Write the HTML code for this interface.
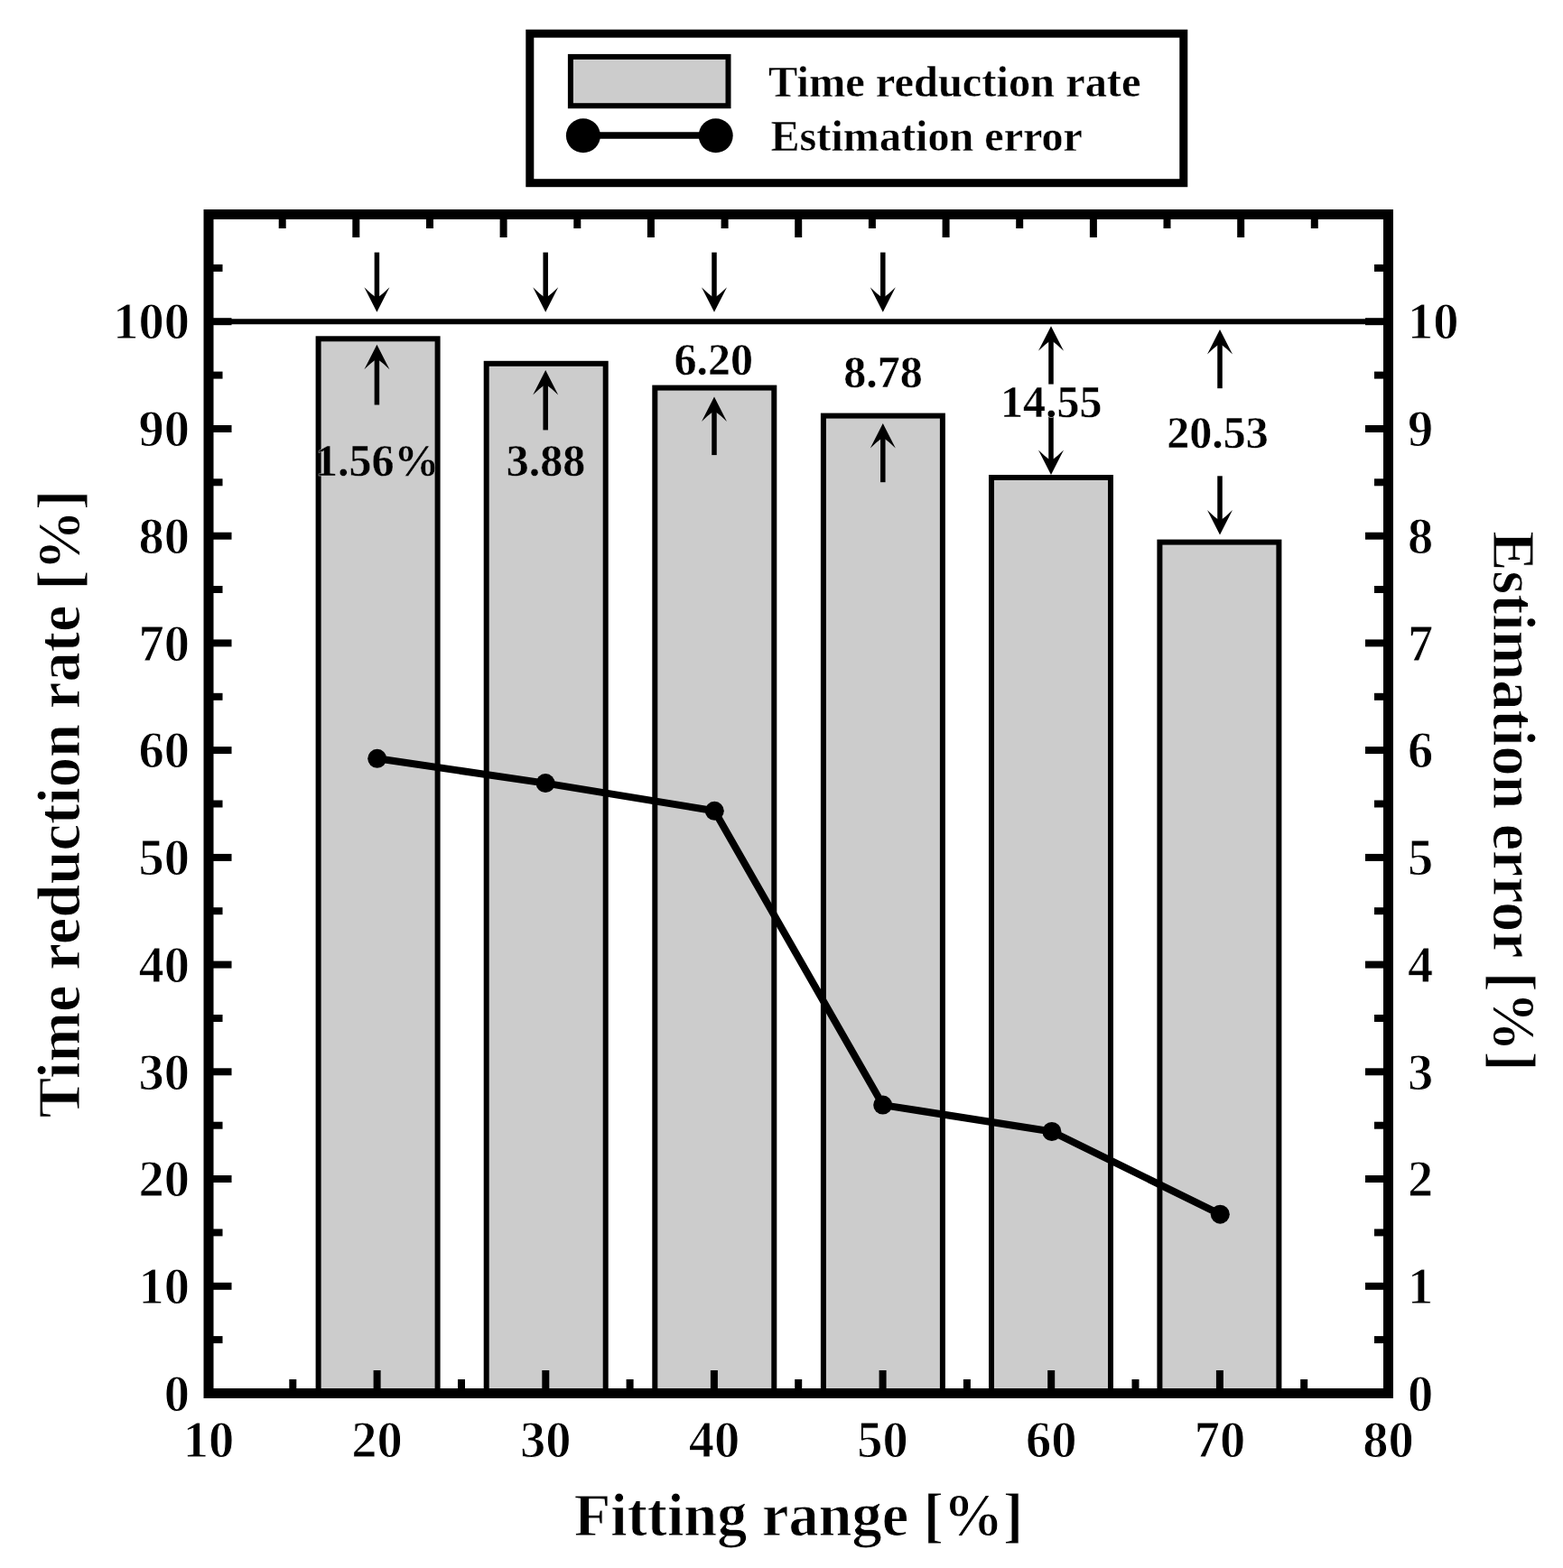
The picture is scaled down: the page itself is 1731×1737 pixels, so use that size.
<!DOCTYPE html>
<html lang="en"><head><meta charset="utf-8"><title>Time reduction rate and estimation error vs fitting range</title>
<style>html,body{margin:0;padding:0;background:#fff}body{width:1731px;height:1737px;overflow:hidden}svg{display:block;filter:blur(0.7px)}text{font-family:"Liberation Serif","Times New Roman",serif;font-weight:bold;fill:#000;stroke:#fff;stroke-width:1px;paint-order:fill stroke}.ing{stroke:#ccc}.tk{font-size:56.5px}.an{font-size:50px}.an text{stroke-width:0.4px}.lg{font-size:49px;stroke-width:0.4px}.ax{font-size:67px}</style>
</head><body>
<svg role="img" aria-label="Bar and line chart" width="1731" height="1737" viewBox="0 0 1731 1737">
<rect x="0" y="0" width="1731" height="1737" fill="#fff"/>
<g fill="#cccccc" stroke="#000" stroke-width="6">
<rect x="352.6" y="375.3" width="132.0" height="1168.2"/>
<rect x="538.7" y="402.8" width="132.0" height="1140.7"/>
<rect x="725.3" y="429.6" width="132.0" height="1113.9"/>
<rect x="911.9" y="460.6" width="132.0" height="1082.9"/>
<rect x="1098.0" y="529.0" width="132.0" height="1014.5"/>
<rect x="1284.4" y="600.6" width="132.0" height="942.9"/>
</g>
<line x1="231.0" y1="356.2" x2="1537.5" y2="356.2" stroke="#000" stroke-width="6"/>
<g stroke="#000" stroke-width="8">
<line x1="231.0" y1="1484.1" x2="246.5" y2="1484.1"/>
<line x1="1537.5" y1="1484.1" x2="1522.0" y2="1484.1"/>
<line x1="231.0" y1="1424.8" x2="256.5" y2="1424.8"/>
<line x1="1537.5" y1="1424.8" x2="1512.0" y2="1424.8"/>
<line x1="231.0" y1="1365.4" x2="246.5" y2="1365.4"/>
<line x1="1537.5" y1="1365.4" x2="1522.0" y2="1365.4"/>
<line x1="231.0" y1="1306.0" x2="256.5" y2="1306.0"/>
<line x1="1537.5" y1="1306.0" x2="1512.0" y2="1306.0"/>
<line x1="231.0" y1="1246.7" x2="246.5" y2="1246.7"/>
<line x1="1537.5" y1="1246.7" x2="1522.0" y2="1246.7"/>
<line x1="231.0" y1="1187.3" x2="256.5" y2="1187.3"/>
<line x1="1537.5" y1="1187.3" x2="1512.0" y2="1187.3"/>
<line x1="231.0" y1="1128.0" x2="246.5" y2="1128.0"/>
<line x1="1537.5" y1="1128.0" x2="1522.0" y2="1128.0"/>
<line x1="231.0" y1="1068.6" x2="256.5" y2="1068.6"/>
<line x1="1537.5" y1="1068.6" x2="1512.0" y2="1068.6"/>
<line x1="231.0" y1="1009.2" x2="246.5" y2="1009.2"/>
<line x1="1537.5" y1="1009.2" x2="1522.0" y2="1009.2"/>
<line x1="231.0" y1="949.9" x2="256.5" y2="949.9"/>
<line x1="1537.5" y1="949.9" x2="1512.0" y2="949.9"/>
<line x1="231.0" y1="890.5" x2="246.5" y2="890.5"/>
<line x1="1537.5" y1="890.5" x2="1522.0" y2="890.5"/>
<line x1="231.0" y1="831.1" x2="256.5" y2="831.1"/>
<line x1="1537.5" y1="831.1" x2="1512.0" y2="831.1"/>
<line x1="231.0" y1="771.8" x2="246.5" y2="771.8"/>
<line x1="1537.5" y1="771.8" x2="1522.0" y2="771.8"/>
<line x1="231.0" y1="712.4" x2="256.5" y2="712.4"/>
<line x1="1537.5" y1="712.4" x2="1512.0" y2="712.4"/>
<line x1="231.0" y1="653.0" x2="246.5" y2="653.0"/>
<line x1="1537.5" y1="653.0" x2="1522.0" y2="653.0"/>
<line x1="231.0" y1="593.7" x2="256.5" y2="593.7"/>
<line x1="1537.5" y1="593.7" x2="1512.0" y2="593.7"/>
<line x1="231.0" y1="534.3" x2="246.5" y2="534.3"/>
<line x1="1537.5" y1="534.3" x2="1522.0" y2="534.3"/>
<line x1="231.0" y1="475.0" x2="256.5" y2="475.0"/>
<line x1="1537.5" y1="475.0" x2="1512.0" y2="475.0"/>
<line x1="231.0" y1="415.6" x2="246.5" y2="415.6"/>
<line x1="1537.5" y1="415.6" x2="1522.0" y2="415.6"/>
<line x1="231.0" y1="356.2" x2="256.5" y2="356.2"/>
<line x1="1537.5" y1="356.2" x2="1512.0" y2="356.2"/>
<line x1="231.0" y1="296.9" x2="246.5" y2="296.9"/>
<line x1="1537.5" y1="296.9" x2="1522.0" y2="296.9"/>
<line x1="324.3" y1="1543.5" x2="324.3" y2="1528.0"/>
<line x1="417.6" y1="1543.5" x2="417.6" y2="1518.0"/>
<line x1="511.0" y1="1543.5" x2="511.0" y2="1528.0"/>
<line x1="604.3" y1="1543.5" x2="604.3" y2="1518.0"/>
<line x1="697.6" y1="1543.5" x2="697.6" y2="1528.0"/>
<line x1="790.9" y1="1543.5" x2="790.9" y2="1518.0"/>
<line x1="884.2" y1="1543.5" x2="884.2" y2="1528.0"/>
<line x1="977.6" y1="1543.5" x2="977.6" y2="1518.0"/>
<line x1="1070.9" y1="1543.5" x2="1070.9" y2="1528.0"/>
<line x1="1164.2" y1="1543.5" x2="1164.2" y2="1518.0"/>
<line x1="1257.5" y1="1543.5" x2="1257.5" y2="1528.0"/>
<line x1="1350.9" y1="1543.5" x2="1350.9" y2="1518.0"/>
<line x1="1444.2" y1="1543.5" x2="1444.2" y2="1528.0"/>
<line x1="312.7" y1="237.5" x2="312.7" y2="253.0"/>
<line x1="394.3" y1="237.5" x2="394.3" y2="263.0"/>
<line x1="476.0" y1="237.5" x2="476.0" y2="253.0"/>
<line x1="557.6" y1="237.5" x2="557.6" y2="263.0"/>
<line x1="639.3" y1="237.5" x2="639.3" y2="253.0"/>
<line x1="720.9" y1="237.5" x2="720.9" y2="263.0"/>
<line x1="802.6" y1="237.5" x2="802.6" y2="253.0"/>
<line x1="884.2" y1="237.5" x2="884.2" y2="263.0"/>
<line x1="965.9" y1="237.5" x2="965.9" y2="253.0"/>
<line x1="1047.6" y1="237.5" x2="1047.6" y2="263.0"/>
<line x1="1129.2" y1="237.5" x2="1129.2" y2="253.0"/>
<line x1="1210.9" y1="237.5" x2="1210.9" y2="263.0"/>
<line x1="1292.5" y1="237.5" x2="1292.5" y2="253.0"/>
<line x1="1374.2" y1="237.5" x2="1374.2" y2="263.0"/>
<line x1="1455.8" y1="237.5" x2="1455.8" y2="253.0"/>
</g>
<rect x="231.0" y="237.5" width="1306.5" height="1306.0" fill="none" stroke="#000" stroke-width="11"/>
<polyline fill="none" stroke="#000" stroke-width="8" stroke-linejoin="round" points="417.7,840.3 604.1,867.6 791.3,898.3 977.7,1224.1 1164.9,1253.5 1351.3,1345.2"/>
<g fill="#000">
<circle cx="417.7" cy="840.3" r="10.5"/>
<circle cx="604.1" cy="867.6" r="10.5"/>
<circle cx="791.3" cy="898.3" r="10.5"/>
<circle cx="977.7" cy="1224.1" r="10.5"/>
<circle cx="1164.9" cy="1253.5" r="10.5"/>
<circle cx="1351.3" cy="1345.2" r="10.5"/>
</g>
<g>
<line x1="417.4" y1="279.6" x2="417.4" y2="333.8" stroke="#000" stroke-width="5.5"/><path d="M417.4 345.8 L403.4 318.3 Q410.4 325.3 417.4 330.3 Q424.4 325.3 431.4 318.3 Z" fill="#000"/>
<line x1="604.2" y1="279.6" x2="604.2" y2="333.8" stroke="#000" stroke-width="5.5"/><path d="M604.2 345.8 L590.2 318.3 Q597.2 325.3 604.2 330.3 Q611.2 325.3 618.2 318.3 Z" fill="#000"/>
<line x1="791.0" y1="279.6" x2="791.0" y2="333.8" stroke="#000" stroke-width="5.5"/><path d="M791.0 345.8 L777.0 318.3 Q784.0 325.3 791.0 330.3 Q798.0 325.3 805.0 318.3 Z" fill="#000"/>
<line x1="977.8" y1="279.6" x2="977.8" y2="333.8" stroke="#000" stroke-width="5.5"/><path d="M977.8 345.8 L963.8 318.3 Q970.8 325.3 977.8 330.3 Q984.8 325.3 991.8 318.3 Z" fill="#000"/>
<line x1="417.4" y1="448.5" x2="417.4" y2="393.8" stroke="#000" stroke-width="5.5"/><path d="M417.4 381.8 L403.4 409.3 Q410.4 402.3 417.4 397.3 Q424.4 402.3 431.4 409.3 Z" fill="#000"/>
<line x1="604.2" y1="476.4" x2="604.2" y2="421.9" stroke="#000" stroke-width="5.5"/><path d="M604.2 409.9 L590.2 437.4 Q597.2 430.4 604.2 425.4 Q611.2 430.4 618.2 437.4 Z" fill="#000"/>
<line x1="791.0" y1="504.1" x2="791.0" y2="451.4" stroke="#000" stroke-width="5.5"/><path d="M791.0 439.4 L777.0 466.9 Q784.0 459.9 791.0 454.9 Q798.0 459.9 805.0 466.9 Z" fill="#000"/>
<line x1="977.8" y1="534.2" x2="977.8" y2="481.0" stroke="#000" stroke-width="5.5"/><path d="M977.8 469.0 L963.8 496.5 Q970.8 489.5 977.8 484.5 Q984.8 489.5 991.8 496.5 Z" fill="#000"/>
<line x1="1164.0" y1="425.6" x2="1164.0" y2="373.3" stroke="#000" stroke-width="5.5"/><path d="M1164.0 361.3 L1150.0 388.8 Q1157.0 381.8 1164.0 376.8 Q1171.0 381.8 1178.0 388.8 Z" fill="#000"/>
<line x1="1164.0" y1="459.5" x2="1164.0" y2="514.0" stroke="#000" stroke-width="5.5"/><path d="M1164.0 526.0 L1150.0 498.5 Q1157.0 505.5 1164.0 510.5 Q1171.0 505.5 1178.0 498.5 Z" fill="#000"/>
<line x1="1351.0" y1="430.2" x2="1351.0" y2="377.0" stroke="#000" stroke-width="5.5"/><path d="M1351.0 365.0 L1337.0 392.5 Q1344.0 385.5 1351.0 380.5 Q1358.0 385.5 1365.0 392.5 Z" fill="#000"/>
<line x1="1351.0" y1="527.3" x2="1351.0" y2="580.5" stroke="#000" stroke-width="5.5"/><path d="M1351.0 592.5 L1337.0 565.0 Q1344.0 572.0 1351.0 577.0 Q1358.0 572.0 1365.0 565.0 Z" fill="#000"/>
</g>
<g class="an" text-anchor="middle">
<text class="ing" x="417.8" y="527.3">1.56%</text>
<text class="ing" x="604.6" y="527.3">3.88</text>
<text x="790.3" y="415.2">6.20</text>
<text x="977.9" y="429.0">8.78</text>
<text x="1164.2" y="461.7">14.55</text>
<text x="1348.6" y="496.0">20.53</text>
</g>
<g class="tk" text-anchor="end">
<text x="210.0" y="1562.7">0</text>
<text x="210.0" y="1444.0">10</text>
<text x="210.0" y="1325.2">20</text>
<text x="210.0" y="1206.5">30</text>
<text x="210.0" y="1087.8">40</text>
<text x="210.0" y="969.1">50</text>
<text x="210.0" y="850.3">60</text>
<text x="210.0" y="731.6">70</text>
<text x="210.0" y="612.9">80</text>
<text x="210.0" y="494.2">90</text>
<text x="210.0" y="375.4">100</text>
</g>
<g class="tk" text-anchor="start">
<text x="1559.0" y="1562.7">0</text>
<text x="1559.0" y="1444.0">1</text>
<text x="1559.0" y="1325.2">2</text>
<text x="1559.0" y="1206.5">3</text>
<text x="1559.0" y="1087.8">4</text>
<text x="1559.0" y="969.1">5</text>
<text x="1559.0" y="850.3">6</text>
<text x="1559.0" y="731.6">7</text>
<text x="1559.0" y="612.9">8</text>
<text x="1559.0" y="494.2">9</text>
<text x="1559.0" y="375.4">10</text>
</g>
<g class="tk" text-anchor="middle">
<text x="231.0" y="1614.2">10</text>
<text x="417.6" y="1614.2">20</text>
<text x="604.3" y="1614.2">30</text>
<text x="790.9" y="1614.2">40</text>
<text x="977.6" y="1614.2">50</text>
<text x="1164.2" y="1614.2">60</text>
<text x="1350.9" y="1614.2">70</text>
<text x="1537.5" y="1614.2">80</text>
</g>
<text class="ax" text-anchor="middle" x="884.5" y="1701.4" textLength="497.3" lengthAdjust="spacingAndGlyphs">Fitting range [%]</text>
<text class="ax" text-anchor="middle" transform="translate(88.3,890.5) rotate(-90)" textLength="695.4" lengthAdjust="spacingAndGlyphs">Time reduction rate [%]</text>
<text class="ax" text-anchor="middle" transform="translate(1654,887.6) rotate(90)" textLength="598" lengthAdjust="spacingAndGlyphs">Estimation error [%]</text>
<rect x="586.8" y="37.2" width="724" height="165.5" fill="#fff" stroke="#000" stroke-width="9"/>
<rect x="631.9" y="62.9" width="174.6" height="54.3" fill="#cccccc" stroke="#000" stroke-width="6"/>
<line x1="645.9" y1="150" x2="792.7" y2="150" stroke="#000" stroke-width="7.5"/>
<circle cx="645.9" cy="150.2" r="19"/><circle cx="792.7" cy="150.2" r="19"/>
<text class="lg" x="851" y="106.7" textLength="412.5" lengthAdjust="spacingAndGlyphs">Time reduction rate</text>
<text class="lg" x="853.5" y="167.3" textLength="345.5" lengthAdjust="spacingAndGlyphs">Estimation error</text>
</svg>
</body></html>
